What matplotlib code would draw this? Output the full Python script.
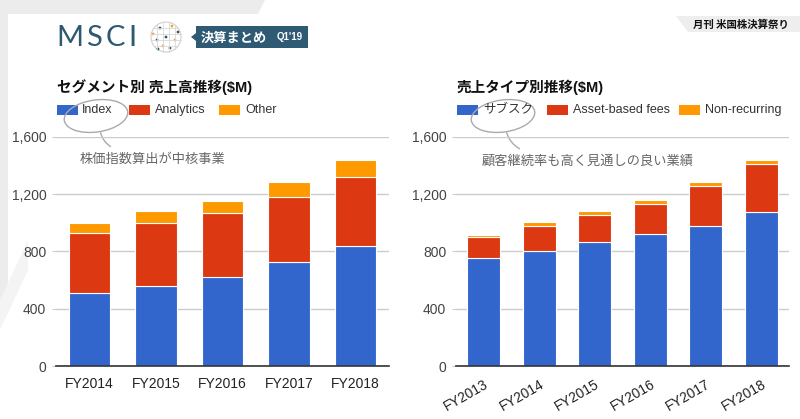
import numpy as np
import matplotlib
matplotlib.use('Agg')
import matplotlib.pyplot as plt
from matplotlib.patches import Rectangle, Polygon, Ellipse, Circle, FancyArrowPatch

plt.rcParams['font.family'] = ['Liberation Sans', 'Noto Sans CJK JP', 'DejaVu Sans']

# left chart: revenue by segment ($M)
seg_years = ['FY2014', 'FY2015', 'FY2016', 'FY2017', 'FY2018']
seg_names = ['Index', 'Analytics', 'Other']
index_rev = [508, 561, 624, 725, 841]
analytics_rev = [419, 436, 443, 454, 478]
other_rev = [75, 86, 86, 105, 121]

# right chart: revenue by type ($M)
type_years = ['FY2013', 'FY2014', 'FY2015', 'FY2016', 'FY2017', 'FY2018']
type_names = ['サブスク', 'Asset-based fees', 'Non-recurring']
subs_rev = [753, 806, 867, 921, 981, 1076]
abf_rev = [147, 173, 191, 209, 275, 333]
nonrec_rev = [16, 25, 25, 28, 30, 33]

colors = ['#3366cc', '#dc3912', '#ff9900']
yticks = [0, 400, 800, 1200, 1600]
ytick_labels = ['0', '400', '800', '1,200', '1,600']

fig = plt.figure(figsize=(8, 4.19), dpi=100)

# background layer in pixel coordinates
bg = fig.add_axes([0, 0, 1, 1], zorder=-5)
bg.set_xlim(0, 800)
bg.set_ylim(419, 0)
bg.axis('off')
bg.add_patch(Polygon([(0, 0), (265, 0), (258, 14), (8, 14), (8, 290), (0, 310)],
                     closed=True, color='#ececec', lw=0))
bg.add_patch(Polygon([(0, 330), (28, 270), (28, 240), (0, 300)], closed=True, color='#f4f4f4', lw=0))

# logo (letters placed one by one for the wide tracking)
for lx, ch in zip([56, 86, 106, 128], 'MSCI'):
    bg.text(lx, 38, ch, fontsize=21, color='#2d5a72', family=['Lato'], va='center', ha='left')
bg.add_patch(Circle((166, 37), 15, fill=False, ec='#cfcfcf', lw=0.8))
for dx in [-9, -3, 3, 9]:
    h = np.sqrt(15**2 - dx**2)
    bg.plot([166 + dx, 166 + dx], [37 - h, 37 + h], color='#d8d8d8', lw=0.6)
    bg.plot([166 - h, 166 + h], [37 + dx, 37 + dx], color='#d8d8d8', lw=0.6)
dots = [(160, 28, '#2d5a72'), (172, 26, '#f5a623'), (157, 40, '#2d5a72'), (166, 37, '#2d5a72'),
        (175, 40, '#f5a623'), (163, 46, '#f5a623'), (170, 48, '#2d5a72'), (153, 34, '#f5a623'),
        (178, 32, '#2d5a72'), (158, 49, '#2d5a72')]
for dxp, dyp, dc in dots:
    bg.add_patch(Circle((dxp, dyp), 1.4, color=dc, lw=0))
bg.add_patch(Rectangle((196, 26), 112, 22, color='#2e5a74', lw=0))
bg.add_patch(Polygon([(196, 33), (191, 37), (196, 41)], closed=True, color='#2e5a74', lw=0))
bg.text(201, 37.5, '決算まとめ', fontsize=9.5, fontweight='bold', color='white', va='center',
        family=['Noto Sans CJK JP'])
bg.text(277, 36.5, "Q1'19", fontsize=7, fontweight='bold', color='white', va='center')

# top right banner
bg.add_patch(Polygon([(676, 16), (800, 16), (800, 32), (688, 32)], closed=True, color='#eeeeee', lw=0))
bg.text(789, 24.5, '月刊 米国株決算祭り', fontsize=7.5, fontweight='bold', color='#111111',
        ha='right', va='center', family=['Noto Sans CJK JP'])

# titles, legends, notes
def header(x0, title, names, box_x, text_x, note, note_xy, ell_xy, curve):
    bg.text(x0, 87, title, fontsize=10.5, fontweight='bold', color='#111111', va='center')
    for bx, tx, name, c in zip(box_x, text_x, names, colors):
        bg.add_patch(Rectangle((bx, 104.5), 21, 10, color=c, lw=0))
        bg.text(tx, 109.5, name, fontsize=9, color='#333333', va='center')
    bg.add_patch(Ellipse(ell_xy, 64, 32, angle=-8, fill=False, ec='#aaaaaa', lw=1))
    bg.add_patch(FancyArrowPatch(curve[0], curve[1], connectionstyle='arc3,rad=0.25',
                                 arrowstyle='-', color='#aaaaaa', lw=1))
    bg.text(note_xy[0], note_xy[1], note, fontsize=9.5, color='#666666', va='center')

header(57, 'セグメント別 売上高推移($M)', seg_names, [57, 129, 219], [82, 155, 245],
       '株価指数算出が中核事業', (80, 160), (96, 116), ((100, 130), (113, 148)))
header(457, '売上タイプ別推移($M)', type_names, [457, 547, 679], [483, 573, 705],
       '顧客継続率も高く見通しの良い業績', (482, 162), (503, 116), ((506, 130), (522, 150)))


def draw(ax, years, series, width):
    x = np.arange(len(years))
    bottom = np.zeros(len(years))
    for vals, c in zip(series, colors):
        ax.bar(x, vals, width, bottom=bottom, color=c, edgecolor='white', linewidth=0.8, zorder=3)
        bottom += np.array(vals)
    ax.set_xlim(-0.5, len(years) - 0.5)
    ax.set_ylim(0, 1600)
    ax.set_yticks(yticks)
    ax.set_yticklabels(ytick_labels)
    ax.set_xticks(x)
    ax.grid(axis='y', color='#cccccc', lw=1, zorder=0)
    for s in ['top', 'right', 'left']:
        ax.spines[s].set_visible(False)
    ax.spines['bottom'].set_color('#333333')
    ax.spines['bottom'].set_linewidth(1.2)
    ax.spines['bottom'].set_zorder(4)
    ax.tick_params(axis='y', length=3, color='#cccccc', labelsize=10, labelcolor='#444444', pad=4)
    ax.tick_params(axis='x', length=0, labelsize=10, labelcolor='#222222', pad=8)
    ax.set_facecolor('none')


ax1 = fig.add_axes([56 / 800, 1 - 366 / 419, 333 / 800, 229 / 419])
draw(ax1, seg_years, [index_rev, analytics_rev, other_rev], 0.62)
ax1.set_xticklabels(seg_years)

ax2 = fig.add_axes([456 / 800, 1 - 366 / 419, 333 / 800, 229 / 419])
draw(ax2, type_years, [subs_rev, abf_rev, nonrec_rev], 0.6)
ax2.set_xticklabels(type_years, rotation=30, ha='right', rotation_mode='anchor')

fig.savefig('out.png', dpi=100)
